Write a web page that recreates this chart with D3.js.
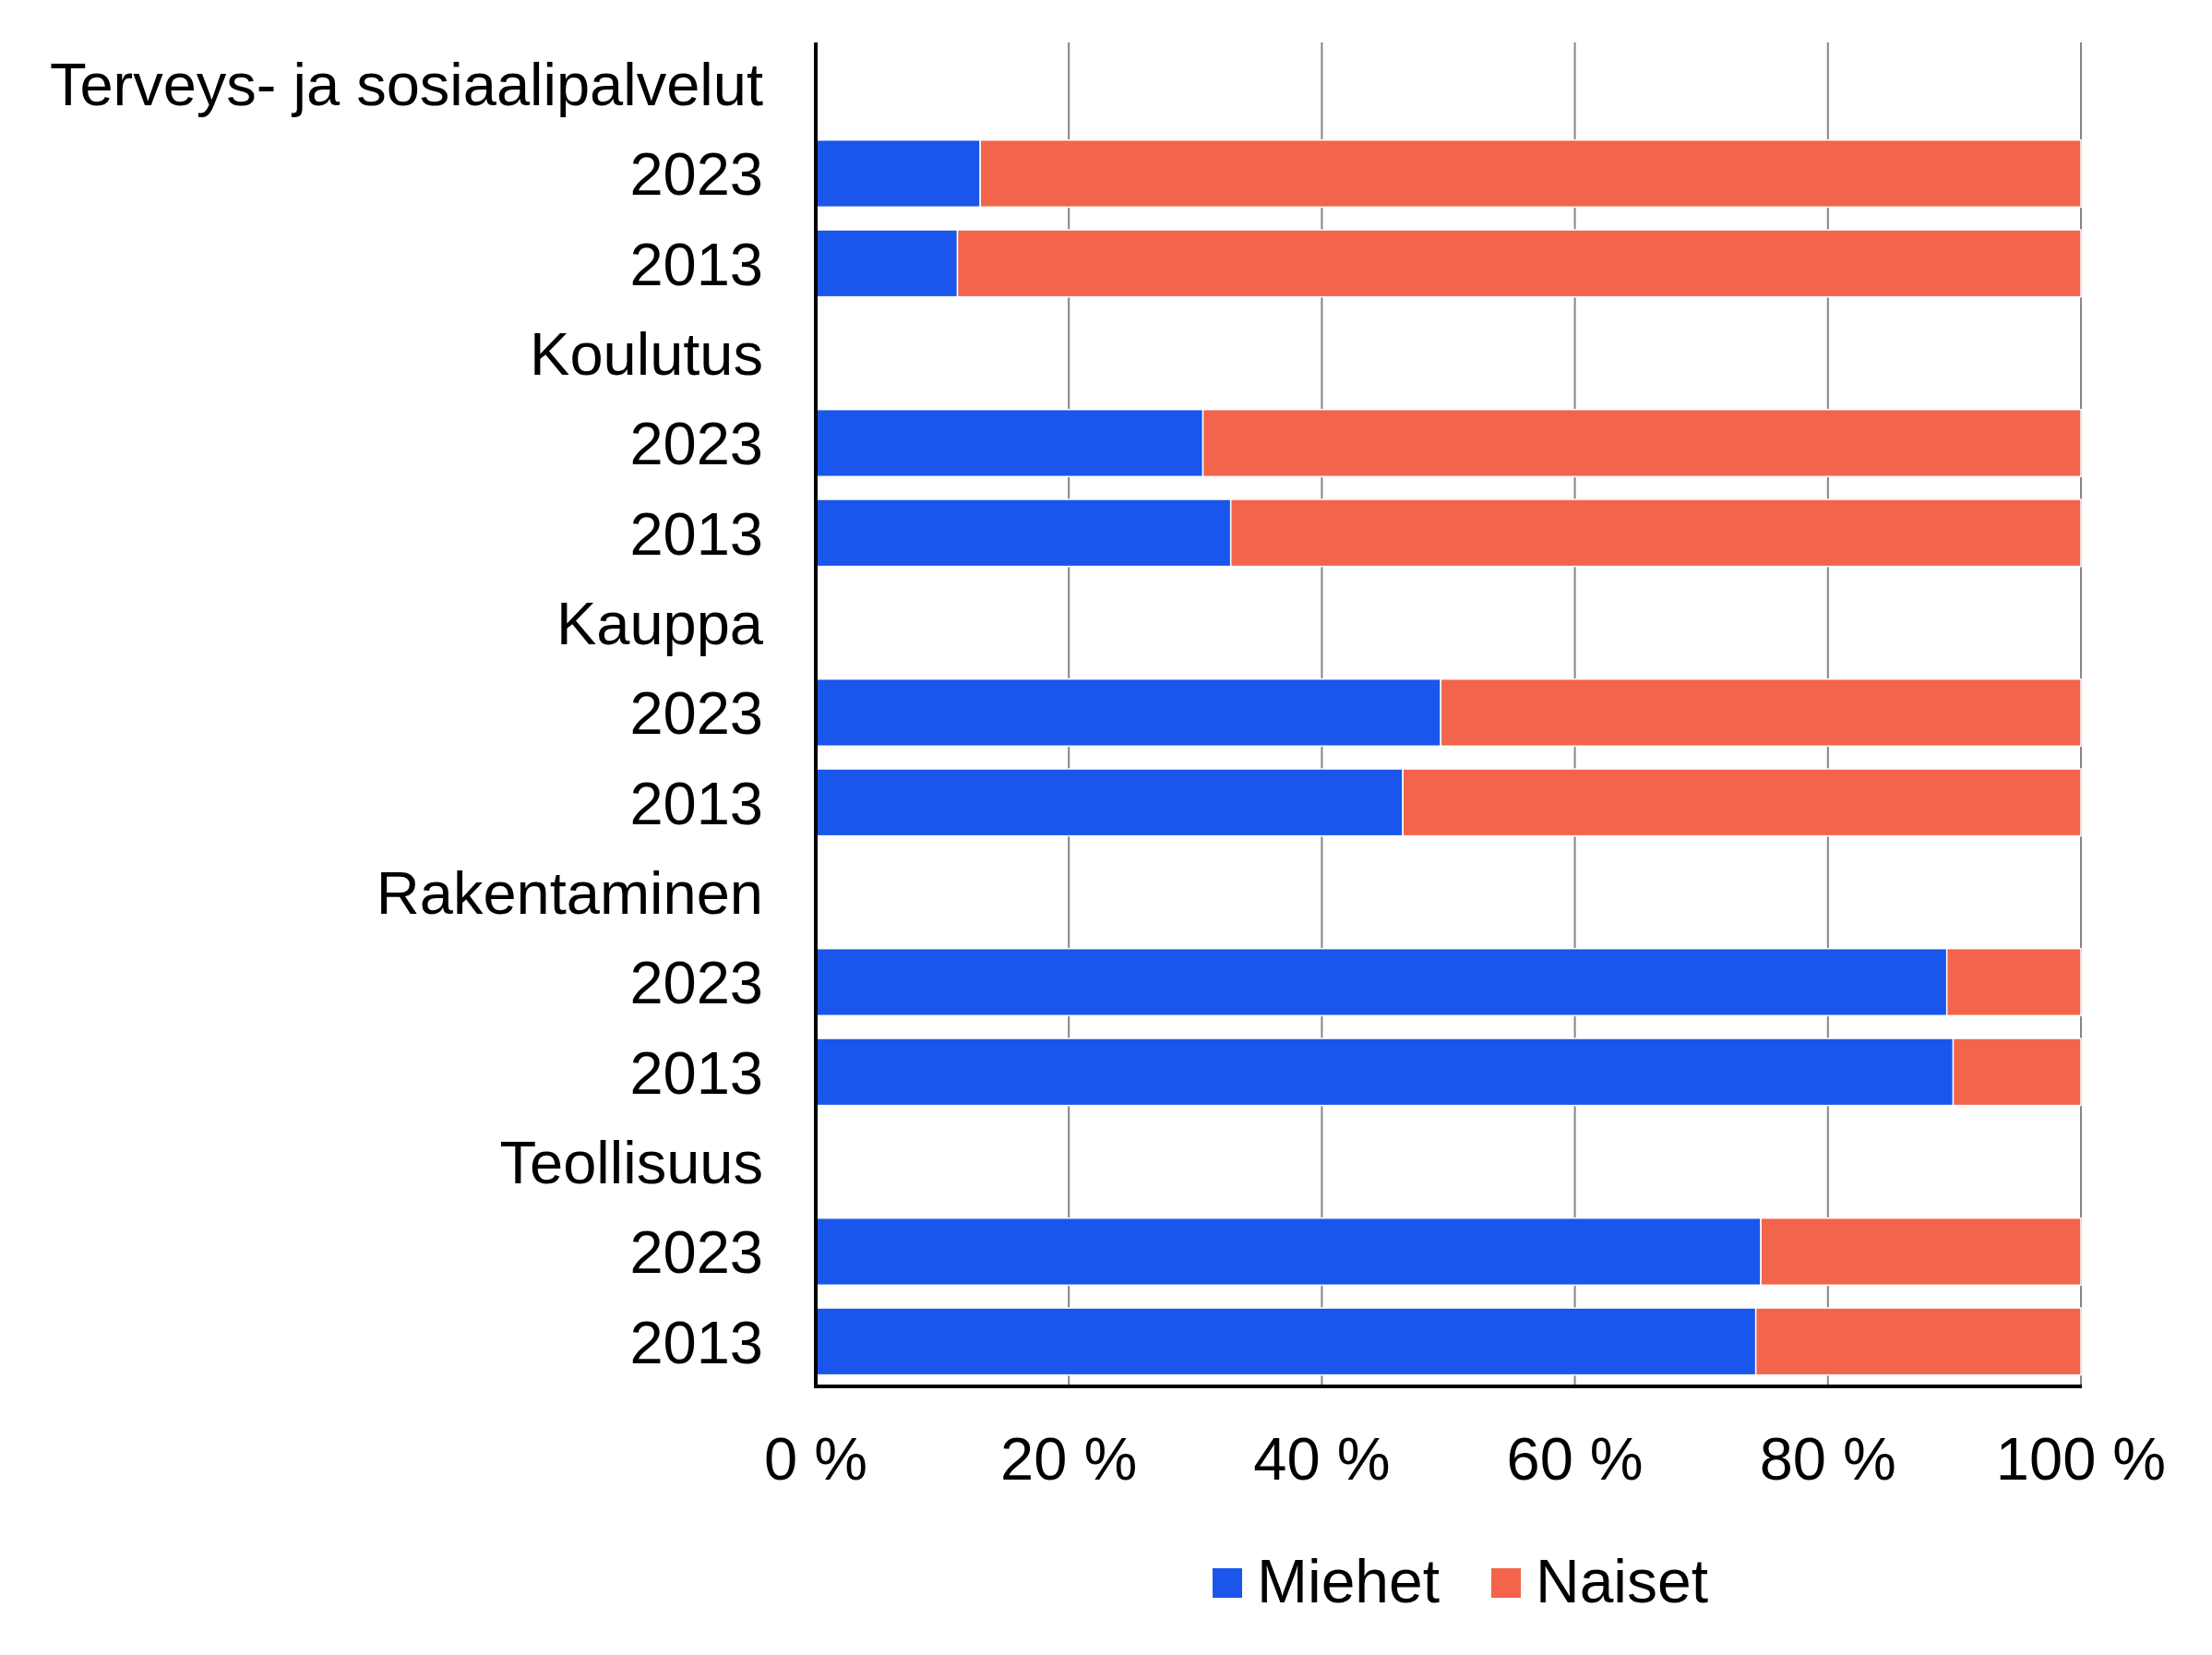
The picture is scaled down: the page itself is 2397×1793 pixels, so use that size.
<!DOCTYPE html>
<html>
<head>
<meta charset="utf-8">
<script src="https://cdn.jsdelivr.net/npm/d3@7"></script>
<style>
html,body{margin:0;padding:0;background:#fff;}
svg{display:block;font-family:"Liberation Sans",Arial,sans-serif;}
</style>
</head>
<body>
<svg id="chart" width="2397" height="1793"></svg>
<script>
const categories = ["Terveys- ja sosiaalipalvelut", "Koulutus", "Kauppa", "Rakentaminen", "Teollisuus"];
const years = ["2023", "2013"];
const series = ["Miehet", "Naiset"];
// Miehet share (%) per category, order: [2023, 2013]
const miehet = [[13.0, 11.2], [30.6, 32.8], [49.4, 46.4], [89.4, 89.9], [74.7, 74.3]];
const naiset = miehet.map(r => r.map(v => 100 - v));
const tickValues = [0, 20, 40, 60, 80, 100];
const tickLabels = ["0 %", "20 %", "40 %", "60 %", "80 %", "100 %"];
const colors = ["#1a56ec", "#f2654c"];

const rows = [];
categories.forEach((c, ci) => {
  rows.push({key: "c" + ci, label: c, isCat: true});
  years.forEach((y, yi) => {
    rows.push({key: "c" + ci + "y" + yi, label: y, isCat: false, values: [miehet[ci][yi], naiset[ci][yi]]});
  });
});

const svg = d3.select("#chart");
const x = d3.scaleLinear().domain([0, 100]).range([884, 2255]);
const y = d3.scaleBand().domain(rows.map(r => r.key)).range([42, 1502]).paddingInner(0.254).paddingOuter(0.127);

// gridlines
svg.append("g").selectAll("line").data(tickValues.slice(1)).join("line")
  .attr("x1", d => x(d)).attr("x2", d => x(d))
  .attr("y1", 46).attr("y2", 1502)
  .attr("stroke", "#858585").attr("stroke-width", 2);

// bars
const barRows = rows.filter(r => !r.isCat);
const stacked = [];
barRows.forEach(r => {
  let acc = 0;
  r.values.forEach((v, i) => {
    stacked.push({key: r.key, x0: acc, x1: acc + v, i});
    acc += v;
  });
});
svg.append("g").selectAll("rect").data(stacked).join("rect")
  .attr("x", d => x(d.x0)).attr("width", d => x(d.x1) - x(d.x0))
  .attr("y", d => y(d.key)).attr("height", y.bandwidth())
  .attr("fill", d => colors[d.i])
  .attr("stroke", "#fff").attr("stroke-width", 1.5);

// axes lines
svg.append("line").attr("x1", x(0)).attr("x2", x(0)).attr("y1", 46).attr("y2", 1504)
  .attr("stroke", "#000").attr("stroke-width", 4);
svg.append("line").attr("x1", x(0) - 2).attr("x2", x(100) + 1).attr("y1", 1502).attr("y2", 1502)
  .attr("stroke", "#000").attr("stroke-width", 4);

// row labels
svg.append("g").selectAll("text").data(rows).join("text")
  .attr("x", 827).attr("y", d => y(d.key) + y.bandwidth() / 2)
  .attr("dy", "0.36em").attr("text-anchor", "end")
  .attr("font-size", 65).attr("fill", "#000")
  .text(d => d.label);

// x tick labels
svg.append("g").selectAll("text").data(tickValues).join("text")
  .attr("x", d => x(d)).attr("y", 1603)
  .attr("text-anchor", "middle").attr("font-size", 65).attr("fill", "#000")
  .text((d, i) => tickLabels[i]);

// legend
const legendX = [1314, 1616];
const lg = svg.append("g").selectAll("g").data(series).join("g");
lg.append("rect").attr("x", (d, i) => legendX[i]).attr("y", 1699)
  .attr("width", 32).attr("height", 32).attr("fill", (d, i) => colors[i]);
lg.append("text").attr("x", (d, i) => legendX[i] + 48).attr("y", 1736)
  .attr("font-size", 66).attr("fill", "#000").text(d => d);
</script>
</body>
</html>
